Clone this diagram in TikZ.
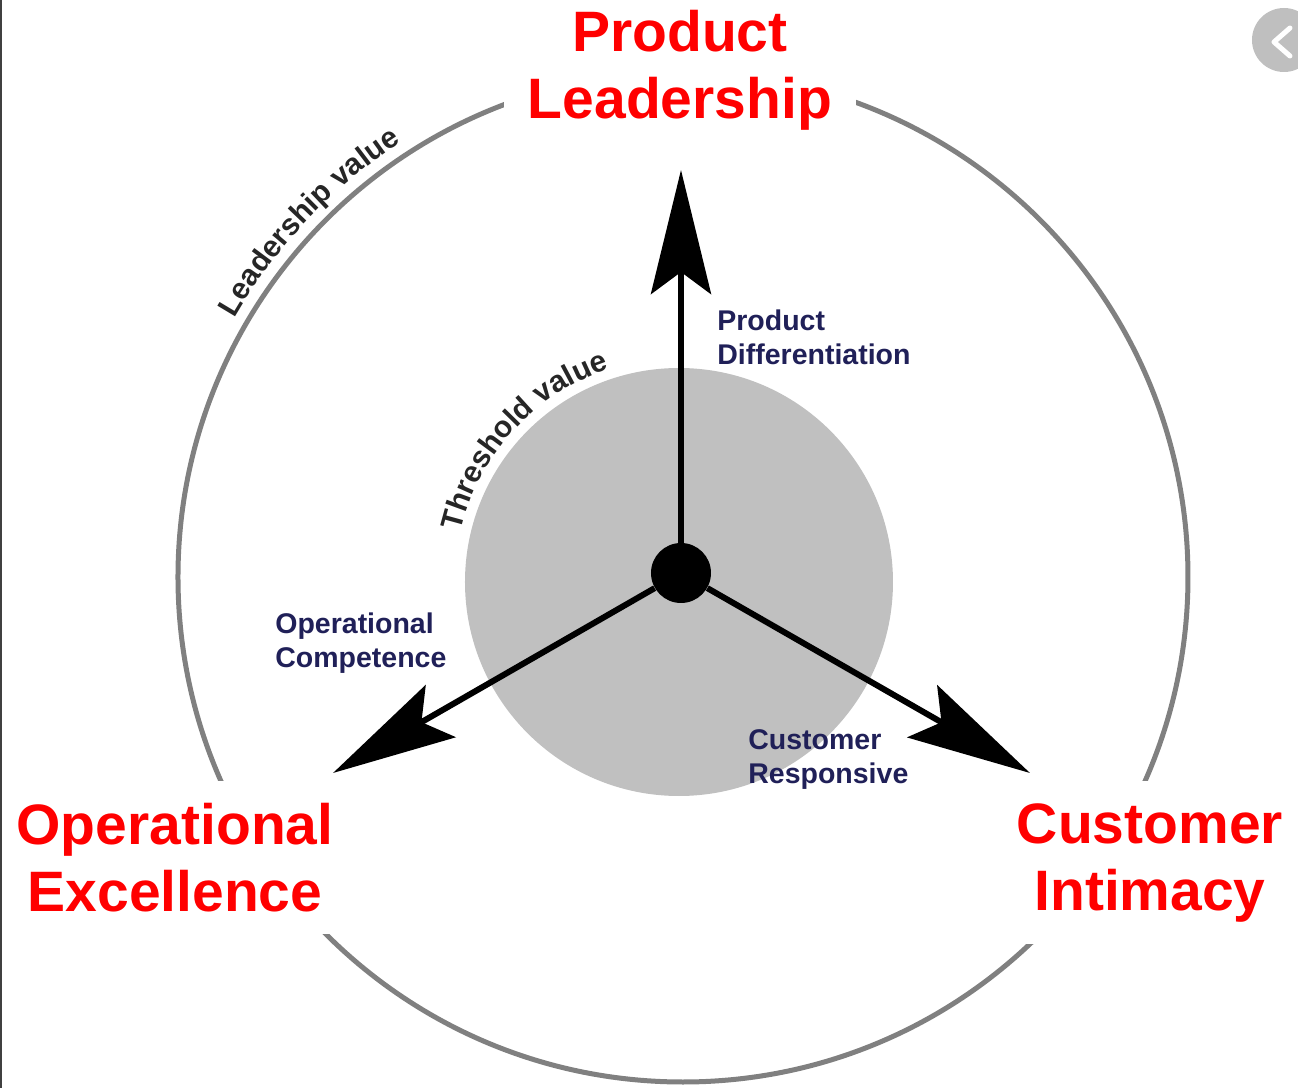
\documentclass[tikz,border=0pt]{standalone}
\usepackage{fontspec}
\setmainfont{Liberation Sans}
\usetikzlibrary{arrows.meta,decorations.text}
\definecolor{ringgray}{RGB}{128,128,128}
\definecolor{coregray}{RGB}{192,192,192}
\definecolor{disciplinered}{RGB}{255,0,0}
\definecolor{drivernavy}{RGB}{32,32,88}

\begin{document}
\begin{tikzpicture}[x=0.5pt, y=0.5pt,
    discipline/.style={font=\bfseries\fontsize{28.5}{33.5}\selectfont, text=disciplinered,
        fill=white, align=center, inner xsep=12pt, inner ysep=11pt, anchor=north},
    driver/.style={font=\bfseries\fontsize{14.25}{17}\selectfont, text=drivernavy,
        align=left, inner sep=0pt, anchor=north west},
    spoke/.style={line width=3pt, -{Stealth[length=62pt, width=30pt, inset=11pt]}},
    arclabel/.style={decorate, decoration={text along path, text align=center,
        text color=black!85, text={|\bfseries\fontsize{15}{18}\selectfont|#1}}}]
    \useasboundingbox (-683,-511) rectangle (615,577);

    % value rings
    \draw[ringgray, line width=2.5pt] (0,0) circle[radius=505];
    \fill[coregray] (-4,-5) circle[radius=214];
    \path[arclabel=Leadership value] (166:518) arc[start angle=166, end angle=107, radius=518];
    \path[shift={(-4,-5)}, arclabel=Threshold value] (172:224) arc[start angle=172, end angle=103, radius=224];

    % disciplines
    \node[discipline] (pl) at (-3,589) {Product\\Leadership};
    \node[discipline] (oe) at (-508,-204) {Operational\\Excellence};
    \node[discipline] (ci) at (467,-204) {Customer\\Intimacy};

    % hub and spokes
    \node[circle, fill=black, minimum size=30pt, inner sep=0pt] (hub) at (-2,4) {};
    \coordinate (pl tip) at (-2,407);
    \coordinate (oe tip) at (-350,-196);
    \coordinate (ci tip) at (347,-196);
    \draw[spoke] (hub) -- (pl tip);
    \draw[spoke] (hub) -- (oe tip);
    \draw[spoke] (hub) -- (ci tip);

    \node[driver] (pd) at (34,268) {Product\\Differentiation};
    \node[driver] (oc) at (-408,-35) {Operational\\Competence};
    \node[driver] (cr) at (65,-152) {Customer\\Responsive};

    % screenshot edge and button
    \begin{scope}
        \clip (-683,-511) rectangle (615,577);
        \fill[gray!50] (601,537) circle[radius=32];
        \draw[white, line width=2.5pt, line cap=round, line join=round] (607,549) -- (591,535) -- (607,521);
    \end{scope}
    \draw[black!75, line width=1pt] (-682,577) -- (-682,-511);
\end{tikzpicture}
\end{document}
